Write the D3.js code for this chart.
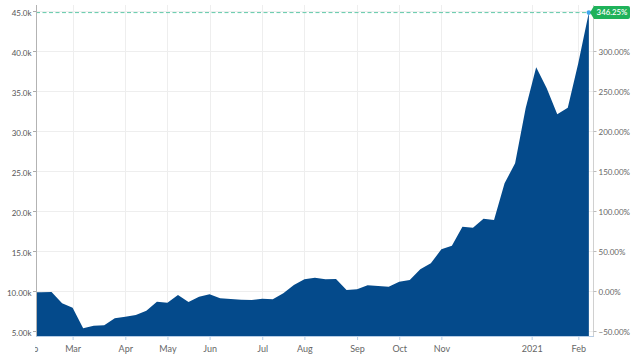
<!DOCTYPE html>
<html>
<head>
<meta charset="utf-8">
<script src="https://cdn.jsdelivr.net/npm/d3@7"></script>
<style>
  html, body { margin: 0; padding: 0; background: #fff; }
  svg { display: block; font-family: Lato, "Open Sans", sans-serif; }
</style>
</head>
<body>
<svg id="chart" width="640" height="359"></svg>
<script>
// ---- data ----
const dates = [
  "2020-02-07","2020-02-10","2020-02-17","2020-02-24","2020-03-02","2020-03-09","2020-03-16","2020-03-23","2020-03-30",
  "2020-04-06","2020-04-13","2020-04-20","2020-04-27","2020-05-04","2020-05-11","2020-05-18","2020-05-25",
  "2020-06-01","2020-06-08","2020-06-15","2020-06-22","2020-06-29","2020-07-06","2020-07-13","2020-07-20","2020-07-27",
  "2020-08-03","2020-08-10","2020-08-17","2020-08-24","2020-08-31","2020-09-07","2020-09-14","2020-09-21","2020-09-28",
  "2020-10-05","2020-10-12","2020-10-19","2020-10-26","2020-11-02","2020-11-09","2020-11-16","2020-11-23","2020-11-30",
  "2020-12-07","2020-12-14","2020-12-21","2020-12-28","2021-01-04","2021-01-11","2021-01-18","2021-01-25",
  "2021-02-01","2021-02-08"
];
const prices = [
  9840, 9850, 9860, 8460, 7900, 5340, 5660, 5710, 6590,
  6790, 7000, 7540, 8660, 8540, 9500, 8620, 9290,
  9590, 9100, 9000, 8900, 8880, 9040, 8960, 9710, 10750,
  11460, 11660, 11460, 11500, 10130, 10210, 10710, 10630, 10540,
  11160, 11380, 12710, 13460, 15210, 15660, 18040, 17910, 19040,
  18880, 23460, 25960, 32840, 37960, 35340, 32090, 32910,
  38500, 44800
];
const lastChangePct = 346.25;

const leftTicks  = [5000, 10000, 15000, 20000, 25000, 30000, 35000, 40000, 45000];
const leftLabels = ["5.00k","10.00k","15.0k","20.0k","25.0k","30.0k","35.0k","40.0k","45.0k"];
const rightTicks = [-50, 0, 50, 100, 150, 200, 250, 300];
const xTickDates  = ["2020-02-03","2020-03-02","2020-04-06","2020-05-04","2020-06-01","2020-07-06","2020-08-03",
                     "2020-09-07","2020-10-05","2020-11-02","2021-01-01","2021-02-01"];
const xTickLabels = ["Feb","Mar","Apr","May","Jun","Jul","Aug","Sep","Oct","Nov","2021","Feb"];

// ---- layout ----
const L = 36, R = 594, T = 5, B = 337;
const parse = d3.utcParse("%Y-%m-%d");
const data = dates.map((d, i) => ({ date: parse(d), value: prices[i] }));
const tickDates = xTickDates.map(parse);

const svg = d3.select("#chart");

const x = d3.scaleUtc()
  .domain([parse("2020-02-07"), new Date(Date.UTC(2021, 1, 11, 10))])
  .range([L + 0.5, R]);
const y = d3.scaleLinear().domain([5000, 45000]).range([331, 11]);
const yPct = d3.scaleLinear().domain([-50, 300]).range([331, 51]);

const defs = svg.append("defs");
defs.append("clipPath").attr("id", "plotclip")
  .append("rect").attr("x", L).attr("y", 0).attr("width", 640 - L).attr("height", 359);
defs.append("clipPath").attr("id", "xclip")
  .append("rect").attr("x", L - 1).attr("y", -5).attr("width", 640).attr("height", 40);

// grid
const grid = svg.append("g").attr("clip-path", "url(#plotclip)");
grid.selectAll(".hg").data(leftTicks).join("line")
  .attr("x1", L).attr("x2", R)
  .attr("y1", d => Math.round(y(d)) + 0.5).attr("y2", d => Math.round(y(d)) + 0.5)
  .attr("stroke", "#eeeeee");
grid.selectAll(".vg").data(tickDates).join("line")
  .attr("x1", d => Math.round(x(d)) + 0.5).attr("x2", d => Math.round(x(d)) + 0.5)
  .attr("y1", T).attr("y2", B)
  .attr("stroke", "#eeeeee");

// area
const area = d3.area()
  .x(d => x(d.date))
  .y0(B)
  .y1(d => y(d.value));
svg.append("path").datum(data)
  .attr("d", area)
  .attr("fill", "#044a8b");

// dashed last-value line
const last = data[data.length - 1];
svg.append("line")
  .attr("x1", L).attr("x2", x(last.date))
  .attr("y1", y(last.value)).attr("y2", y(last.value))
  .attr("stroke", "#62c9a9").attr("stroke-width", 1)
  .attr("stroke-dasharray", "4,2.5");

// axis lines
svg.append("line").attr("x1", L + 0.5).attr("x2", L + 0.5).attr("y1", T).attr("y2", B)
  .attr("stroke", "#b3b3b3");
svg.append("line").attr("x1", R - 0.5).attr("x2", R - 0.5).attr("y1", T).attr("y2", B)
  .attr("stroke", "#d0d0d0");
svg.append("line").attr("x1", L).attr("x2", R).attr("y1", B - 0.5).attr("y2", B - 0.5)
  .attr("stroke", "#b6cde6");

// left axis
const gL = svg.append("g").attr("transform", `translate(${L},0)`)
  .call(d3.axisLeft(y).tickValues(leftTicks).tickFormat((d, i) => leftLabels[i]).tickSize(3).tickPadding(1.5));
gL.select(".domain").remove();
gL.selectAll(".tick line").attr("stroke", "#aaa");
gL.selectAll(".tick text").attr("fill", "#555").attr("font-size", 8).attr("font-family", "Lato, sans-serif").attr("dy", "0.6em");

// right axis
const gR = svg.append("g").attr("transform", `translate(${R - 0.5},0)`)
  .call(d3.axisRight(yPct).tickValues(rightTicks).tickFormat(d => d3.format(".2f")(d) + "%").tickSize(3).tickPadding(2));
gR.select(".domain").remove();
gR.selectAll(".tick line").attr("stroke", "#bbb");
gR.selectAll(".tick text").attr("fill", "#666").attr("font-size", 8).attr("font-family", "Lato, sans-serif").attr("dy", "0.45em");

// bottom axis
const gB = svg.append("g").attr("transform", `translate(0,${B})`)
  .attr("clip-path", "url(#xclip)");
gB.call(d3.axisBottom(x).tickValues(tickDates).tickFormat((d, i) => xTickLabels[i]).tickSize(3).tickPadding(5.5));
gB.select(".domain").remove();
gB.selectAll(".tick line").attr("stroke", "#b6cde6");
gB.selectAll(".tick text").attr("fill", "#666").attr("font-size", 9).attr("font-family", "Lato, sans-serif");

// end marker and label
const ex = x(last.date), ey = y(last.value);
svg.append("circle").attr("cx", ex).attr("cy", ey).attr("r", 2.3).attr("fill", "#3fa6ee");
const lb = svg.append("g").attr("transform", `translate(${R - 1},${ey})`);
lb.append("path")
  .attr("d", "M-3,0 L1,-6.5 L35,-6.5 Q37,-6.5 37,-4.5 L37,4.5 Q37,6.5 35,6.5 L1,6.5 Z")
  .attr("fill", "#1fb25a");
lb.append("text")
  .attr("x", 19).attr("y", 0).attr("dy", "0.35em")
  .attr("text-anchor", "middle")
  .attr("fill", "#fff").attr("font-size", 7.8).attr("font-weight", 600)
  .attr("font-family", "Lato, sans-serif")
  .text(d3.format(".2f")(lastChangePct) + "%");
</script>
</body>
</html>
